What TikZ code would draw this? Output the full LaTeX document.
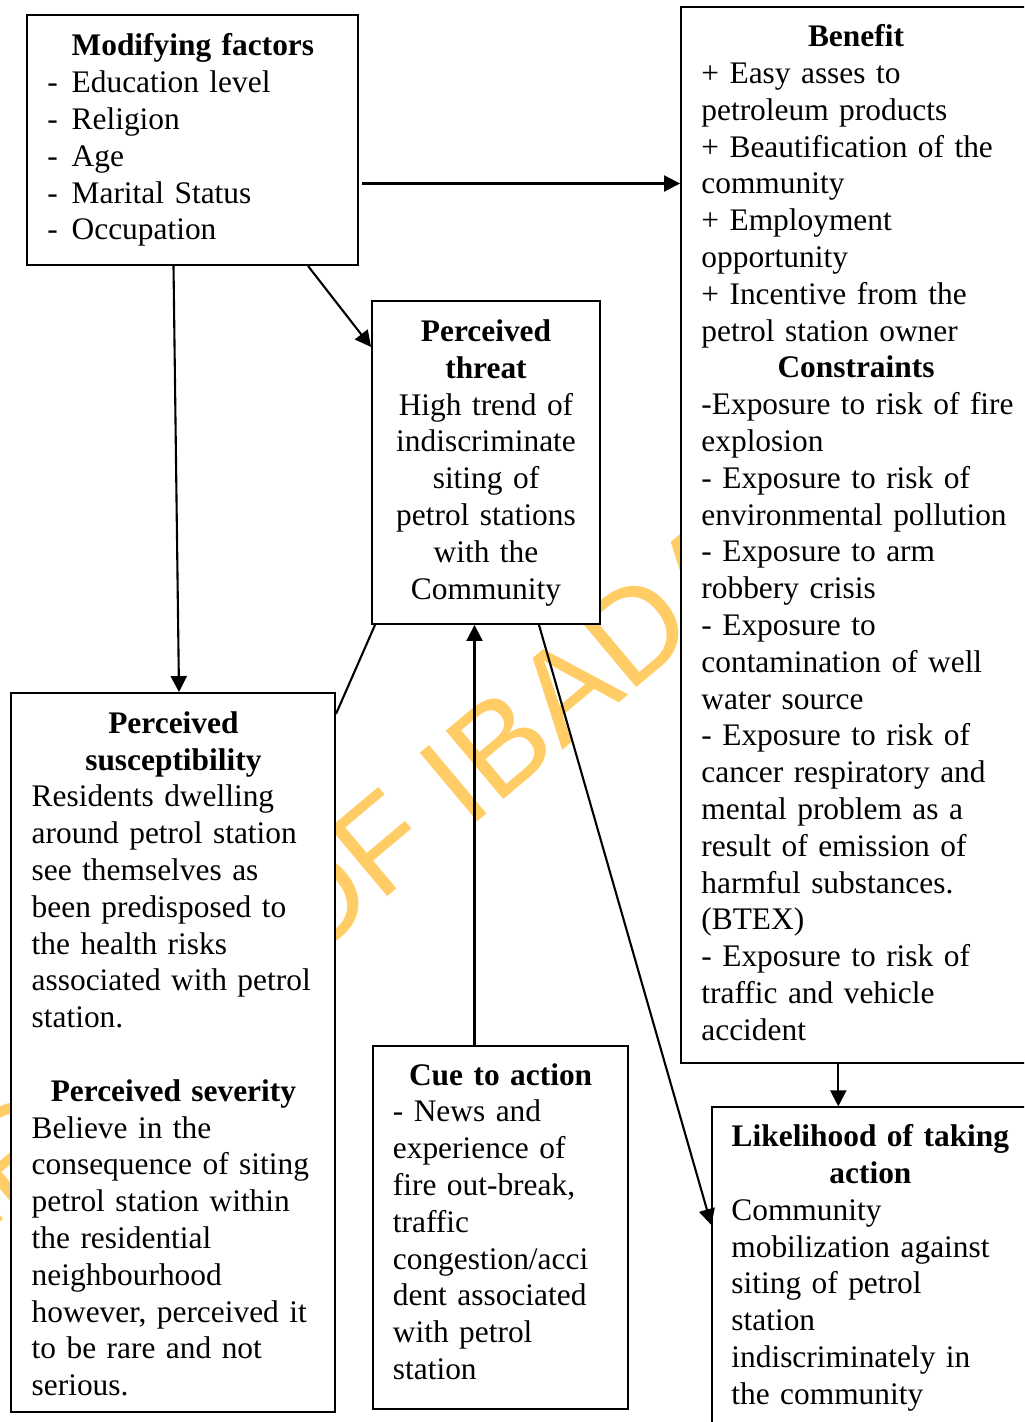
\documentclass[tikz,border=0pt]{standalone}
\usepackage{fontspec}
\setmainfont{Liberation Serif}
\newfontfamily\wmfont{Liberation Sans}
\usetikzlibrary{arrows.meta,fit,calc}
\definecolor{wm}{RGB}{255,204,102}
\newcommand\dsh{\makebox[12.15pt][l]{-}}
\newcommand\ttlbox[2]{\makebox[#1][c]{\textbf{#2}}}
\begin{document}
\begin{tikzpicture}[x=0.5pt,y=-0.5pt,
  box/.style={draw, line width=0.95pt, fill=white, inner sep=0pt, rectangle},
  txt/.style={inner sep=0pt, text width=220pt, align=left, anchor=base west,
    font=\fontsize{15.7pt}{18.4pt}\selectfont},
  wmtext/.style={rotate=40, inner sep=0pt, text=wm,
    font=\wmfont\fontsize{65pt}{70pt}\selectfont},
  arr/.style={line width=1.05pt, -{Triangle[length=8pt,width=8pt]}},
  plain/.style={line width=1.05pt}]

\path[use as bounding box] (0,0) rectangle (1024,1422);
\clip (0,0) rectangle (1024,1422);

% watermark
\node[wmtext, anchor=base east] (wm1) at (302,969) {UNIVERSITY\ };
\node[wmtext, anchor=base west] (wm2) at (302,969) {OF IBADAN};

% boxes
\node[box, fit={(27,15) (358,265)}] (mf) {};
\node[box, fit={(372,301) (600,624)}] (thr) {};
\node[box, fit={(11,693) (335,1412)}] (sus) {};
\node[box, fit={(372.7,1046) (627.7,1409.3)}] (cue) {};
\node[box, fit={(681,7) (1030,1063.3)}] (ben) {};
\node[box, fit={(712.3,1107.3) (1028,1450)}] (lik) {};

% texts
\node[txt] (mft) at (47,56) {\ttlbox{145.5pt}{Modifying factors}\\
\dsh Education level\\
\dsh Religion\\
\dsh Age\\
\dsh Marital Status\\
\dsh Occupation};

\node[txt, text width=114pt, align=center, anchor=base] (thrt) at (486,341.5) {\textbf{Perceived}\\
\textbf{threat}\\
High trend of\\
indiscriminate\\
siting of\\
petrol stations\\
with the\\
Community};

\node[txt] (sust) at (31.3,733.3) {\ttlbox{141.7pt}{Perceived}\\
\ttlbox{141.7pt}{susceptibility}\\
Residents dwelling\\
around petrol station\\
see themselves as\\
been predisposed to\\
the health risks\\
associated with petrol\\
station.\\
\mbox{}\\
\ttlbox{141.7pt}{Perceived severity}\\
Believe in the\\
consequence of siting\\
petrol station within\\
the residential\\
neighbourhood\\
however, perceived it\\
to be rare and not\\
serious.};

\node[txt] (cuet) at (392.5,1085) {\ttlbox{107.7pt}{Cue to action}\\
- News and\\
experience of\\
fire out-break,\\
traffic\\
congestion/acci\\
dent associated\\
with petrol\\
station};

\node[txt] (bent) at (701,46.7) {\ttlbox{154.6pt}{Benefit}\\
+ Easy asses to\\
petroleum products\\
+ Beautification of the\\
community\\
+ Employment\\
opportunity\\
+ Incentive from the\\
petrol station owner\\
\ttlbox{154.6pt}{Constraints}\\
-Exposure to risk of fire\\
explosion\\
- Exposure to risk of\\
environmental pollution\\
- Exposure to arm\\
robbery crisis\\
- Exposure to\\
contamination of well\\
water source\\
- Exposure to risk of\\
cancer respiratory and\\
mental problem as a\\
result of emission of\\
harmful substances.\\
(BTEX)\\
- Exposure to risk of\\
traffic and vehicle\\
accident};

\node[txt] (likt) at (731,1146.7) {\ttlbox{139pt}{Likelihood of taking}\\
\ttlbox{139pt}{action}\\
Community\\
mobilization against\\
siting of petrol\\
station\\
indiscriminately in\\
the community};

% connectors
\draw[arr] ([xshift=1.5pt]mf.east |- 0,183.5) -- (ben.west |- 0,183.5);
\draw[arr] (mf.south -| 308,0) -- (thr.west |- 0,347);
\draw[arr] (mf.south -| 173.5,0) -- (sus.north -| 179,0);
\draw[plain] (thr.south -| 375,0) -- (sus.east |- 0,714);
\draw[arr] (cue.north -| 474.5,0) -- (thr.south -| 474.5,0);
\draw[arr] (thr.south -| 539,0) -- (lik.west |- 0,1225);
\draw[arr] (ben.south -| 838.3,0) -- (lik.north -| 838.3,0);
\end{tikzpicture}
\end{document}
